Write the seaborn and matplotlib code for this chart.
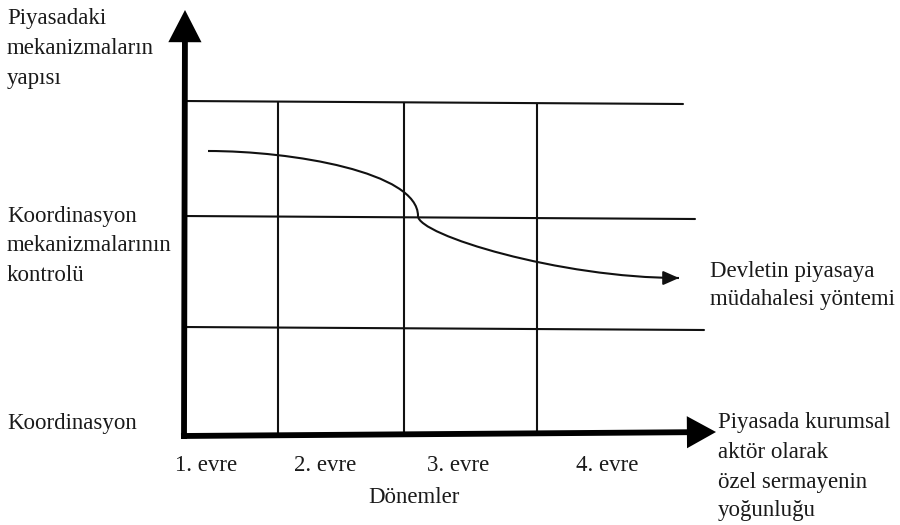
import matplotlib
matplotlib.use("Agg")
import matplotlib.pyplot as plt
from matplotlib.path import Path
from matplotlib.patches import PathPatch
import seaborn as sns

# ---- data (diagram, in pixel space) ----
# process curve "Devletin piyasaya müdahalesi yöntemi": two cubic Bezier pieces
# (anchor, control, control, anchor, control, control, anchor)
curve_x = [208, 292, 418, 418, 418, 560, 679]
curve_y = [151, 151, 172, 216, 235, 278, 278]

# horizontal level lines (start, end)
hline_x0 = [183, 183, 183]
hline_x1 = [683, 695, 704]
hline_y0 = [101, 216, 327]
hline_y1 = [104, 219, 330]

# vertical period separators
vline_x = [278, 404, 537]
vline_top = [102, 103, 104]
vline_bot = [434, 433, 432]

# axes arrows
yaxis_x = [184, 185]
yaxis_y = [439, 10]
xaxis_x = [181, 716]
xaxis_y = [436, 432]

period_labels = ["1. evre", "2. evre", "3. evre", "4. evre"]
period_pos = [206.5, 325, 458, 607.5]
xlabel = "Dönemler"

left_lines = ["Piyasadaki", "mekanizmaların", "yapısı",
              "Koordinasyon", "mekanizmalarının", "kontrolü",
              "Koordinasyon"]
left_base = [24, 54, 84, 222, 251, 281, 429]

curve_lines = ["Devletin piyasaya", "müdahalesi yöntemi"]
curve_base = [277, 305]
xaxis_lines = ["Piyasada kurumsal", "aktör olarak", "özel sermayenin", "yoğunluğu"]
xaxis_base = [428, 458, 488, 516]

# ---- drawing ----
sns.set_theme(style="white")
plt.rcParams["font.family"] = ["Liberation Serif", "DejaVu Serif"]

fig = plt.figure(figsize=(9, 5.25), dpi=100)
ax = fig.add_axes([0, 0, 1, 1])
ax.set_xlim(0, 900)
ax.set_ylim(525, 0)
ax.axis("off")

ink = "#111111"
thin = 1.5

for x0, x1, y0, y1 in zip(hline_x0, hline_x1, hline_y0, hline_y1):
    sns.lineplot(x=[x0, x1], y=[y0, y1], sort=False, color=ink, lw=thin, ax=ax)

for x, t, b in zip(vline_x, vline_top, vline_bot):
    sns.lineplot(x=[x, x], y=[t, b], sort=False, color=ink, lw=thin, ax=ax,
                 orient="y")

# curve (drawn by matplotlib's Bezier path renderer)
codes = [Path.MOVETO, Path.CURVE4, Path.CURVE4, Path.CURVE4,
         Path.CURVE4, Path.CURVE4, Path.CURVE4]
path = Path(list(zip(curve_x, curve_y)), codes)
ax.add_patch(PathPatch(path, facecolor="none", edgecolor=ink, lw=thin,
                       capstyle="butt"))
ax.annotate("", xy=(curve_x[-1], curve_y[-1]),
            xytext=(curve_x[-1] - 14, curve_y[-1]),
            arrowprops=dict(arrowstyle="-|>,head_length=0.95,head_width=0.42",
                            mutation_scale=10, lw=thin, color=ink,
                            shrinkA=0, shrinkB=0))

# thick axes with arrow heads
ax.annotate("", xy=(yaxis_x[1], yaxis_y[1]), xytext=(yaxis_x[0], yaxis_y[0]),
            arrowprops=dict(arrowstyle="-|>,head_length=1.65,head_width=0.85",
                            mutation_scale=10, lw=4.2, color="black",
                            shrinkA=0, shrinkB=0, joinstyle="miter",
                            capstyle="butt"))
ax.annotate("", xy=(xaxis_x[1], xaxis_y[1]), xytext=(xaxis_x[0], xaxis_y[0]),
            arrowprops=dict(arrowstyle="-|>,head_length=1.45,head_width=0.8",
                            mutation_scale=10, lw=4.2, color="black",
                            shrinkA=0, shrinkB=0, joinstyle="miter",
                            capstyle="butt"))

fs = 16.5
txt = "#1a1a1a"
for lab, pos in zip(period_labels, period_pos):
    ax.text(pos, 471, lab, ha="center", va="baseline", fontsize=fs, color=txt)
ax.text(413.5, 503, xlabel, ha="center", va="baseline", fontsize=fs, color=txt)

for lab, b in zip(left_lines, left_base):
    ax.text(7, b, lab, ha="left", va="baseline", fontsize=fs, color=txt)
for lab, b in zip(curve_lines, curve_base):
    ax.text(710, b, lab, ha="left", va="baseline", fontsize=fs, color=txt)
for lab, b in zip(xaxis_lines, xaxis_base):
    ax.text(718, b, lab, ha="left", va="baseline", fontsize=fs, color=txt)

fig.savefig("out.png", dpi=100)
